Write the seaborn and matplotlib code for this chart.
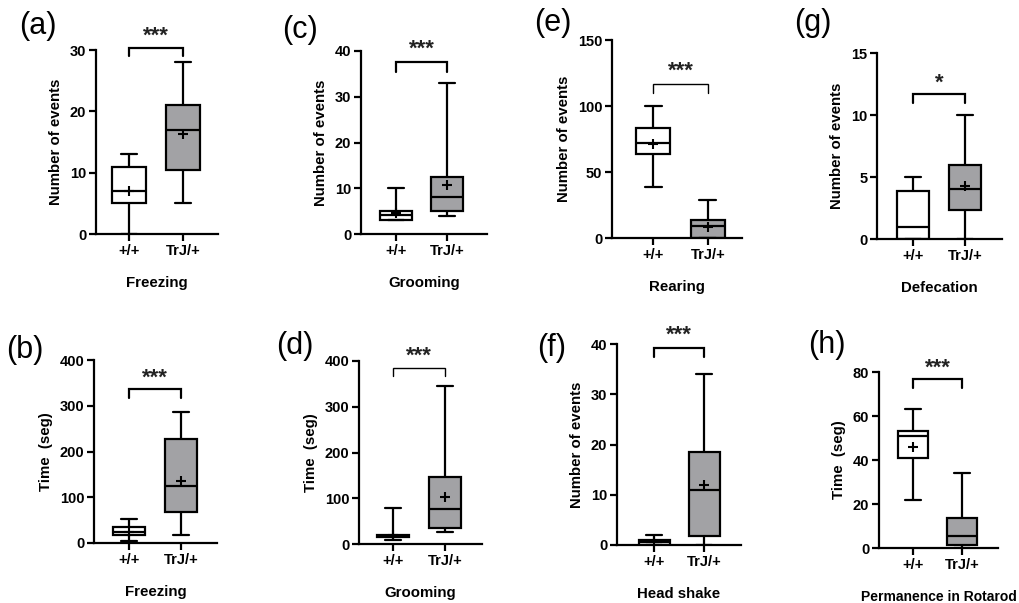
import numpy as np
import pandas as pd
import matplotlib.pyplot as plt
import seaborn as sns

sns.set_theme(style="ticks")
plt.rcParams['font.family'] = ['Liberation Sans', 'DejaVu Sans']
plt.rcParams['text.color'] = 'black'
plt.rcParams['axes.labelcolor'] = 'black'

groups = ['+/+', 'TrJ/+']
box_colors = {'+/+': 'white', 'TrJ/+': '#a2a2a5'}

# five-number summaries: min, q1, median, q3, max
freezing_n_wt = [0, 5, 7, 11, 13]
freezing_n_trj = [5, 10.5, 17, 21, 28]
freezing_n_mean = [7, 16.3]

grooming_n_wt = [3, 3, 4.2, 5, 10]
grooming_n_trj = [4, 5, 8, 12.5, 33]
grooming_n_mean = [4.5, 10.7]

rearing_n_wt = [39, 64, 72, 83, 100]
rearing_n_trj = [0, 0, 9, 14, 29]
rearing_n_mean = [71, 8.5]

defecation_n_wt = [0, 0, 1, 3.9, 5]
defecation_n_trj = [0, 2.3, 4, 6, 10]
defecation_n_mean = [np.nan, 4.3]

freezing_t_wt = [5, 17, 25, 35, 53]
freezing_t_trj = [17, 68, 124, 227, 287]
freezing_t_mean = [25, 135]

grooming_t_wt = [8, 15, 18, 20, 78]
grooming_t_trj = [27, 35, 77, 147, 345]
grooming_t_mean = [20, 103]

headshake_n_wt = [0, 0, 0.5, 1, 2]
headshake_n_trj = [0, 1.7, 11, 18.5, 34]
headshake_n_mean = [0.6, 12]

rotarod_t_wt = [22, 41, 51, 53, 63]
rotarod_t_trj = [0, 1.5, 5.5, 13.5, 34]
rotarod_t_mean = [46, np.nan]

# significance: stars, bracket leg, bracket top, star height
sig_a = ['***', 29.0, 30.3, 32.3]
sig_c = ['***', 35.5, 37.5, 40.3]
sig_e = ['***', 110, 116.7, 126]
sig_g = ['*', 11.0, 11.7, 12.6]
sig_b = ['***', 317, 336, 360]
sig_d = ['***', 367, 385, 410]
sig_f = ['***', 37.4, 39.2, 41.7]
sig_h = ['***', 72.7, 76.8, 81.5]

W, H = 1019, 603
fig = plt.figure(figsize=(W / 100, H / 100), dpi=100)


def panel(letter, rect, xlim, letter_xy, wt, trj, means, ymax, ystep,
          ylabel, xlabel, sig, blw=1.6, xlabel_size=10.8):
    left, top, right, bottom = rect
    ax = fig.add_axes([left / W, 1 - bottom / H, (right - left) / W, (bottom - top) / H])
    df = pd.DataFrame({'genotype': [groups[0]] * len(wt) + [groups[1]] * len(trj),
                       'value': wt + trj})
    sns.boxplot(data=df, x='genotype', y='value', hue='genotype', palette=box_colors,
                whis=(0, 100), width=0.62, linewidth=1.6, linecolor='black',
                showfliers=False, legend=False, ax=ax)
    ax.scatter(np.arange(len(groups)), means, marker='+', color='black',
               s=45, linewidth=1.5, zorder=5)
    stars, leg, btop, sy = sig
    ax.plot([0, 0, 1, 1], [leg, btop, btop, leg], color='black', lw=blw,
            clip_on=False, solid_joinstyle='miter')
    ax.text(0.5, sy, stars, ha='center', va='center', fontsize=16,
            fontweight='bold', color='#222222', clip_on=False)
    ax.set_xlim(*xlim)
    ax.set_ylim(0, ymax)
    ax.set_yticks(np.arange(0, ymax + ystep / 2, ystep))
    sns.despine(ax=ax)
    for s in ['left', 'bottom']:
        ax.spines[s].set_linewidth(1.6)
        ax.spines[s].set_color('black')
    ax.tick_params(width=1.6, length=5, labelsize=10.5, colors='black', pad=2)
    for lab in ax.get_xticklabels() + ax.get_yticklabels():
        lab.set_fontweight('bold')
    ax.set_ylabel(ylabel, fontsize=10.8, fontweight='bold', labelpad=5)
    ax.set_xlabel(xlabel, fontsize=xlabel_size, fontweight='bold', labelpad=13)
    fig.text(letter_xy[0] / W, 1 - letter_xy[1] / H, letter, fontsize=22,
             ha='center', va='center')
    return ax


panel('(a)', (96, 50, 218, 234), (-0.61, 1.65), (38, 26),
      freezing_n_wt, freezing_n_trj, freezing_n_mean, 30, 10,
      'Number of events', 'Freezing', sig_a)
panel('(c)', (361, 51, 487, 234), (-0.69, 1.78), (300, 30),
      grooming_n_wt, grooming_n_trj, grooming_n_mean, 40, 10,
      'Number of events', 'Grooming', sig_c)
panel('(e)', (612, 40, 742, 238), (-0.75, 1.62), (553, 23),
      rearing_n_wt, rearing_n_trj, rearing_n_mean, 150, 50,
      'Number of events', 'Rearing', sig_e, blw=1.0)
panel('(g)', (877, 53, 1002, 239), (-0.69, 1.71), (813, 23),
      defecation_n_wt, defecation_n_trj, defecation_n_mean, 15, 5,
      'Number of events', 'Defecation', sig_g)
panel('(b)', (94, 360, 217, 543), (-0.67, 1.69), (25, 350),
      freezing_t_wt, freezing_t_trj, freezing_t_mean, 400, 100,
      'Time  (seg)', 'Freezing', sig_b)
panel('(d)', (359, 361, 482, 544), (-0.65, 1.71), (295, 346),
      grooming_t_wt, grooming_t_trj, grooming_t_mean, 400, 100,
      'Time  (seg)', 'Grooming', sig_d, blw=1.0)
panel('(f)', (617, 344, 741, 545), (-0.74, 1.74), (552, 348),
      headshake_n_wt, headshake_n_trj, headshake_n_mean, 40, 10,
      'Number of events', 'Head shake', sig_f)
panel('(h)', (879, 372, 998, 548), (-0.69, 1.73), (827, 345),
      rotarod_t_wt, rotarod_t_trj, rotarod_t_mean, 80, 20,
      'Time  (seg)', 'Permanence in Rotarod', sig_h, xlabel_size=10.0)

fig.savefig('out.png', dpi=100, facecolor='white')
